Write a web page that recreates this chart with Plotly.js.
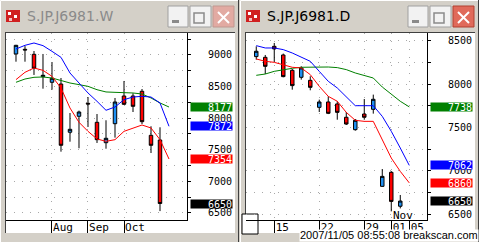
<!DOCTYPE html>
<html><head><meta charset="utf-8">
<script src="https://cdn.plot.ly/plotly-3.0.1.min.js"></script>
<style>html,body{margin:0;padding:0;background:#d4d0c8;}#chart{width:479px;height:242px;}</style>
</head><body><div id="chart"></div>
<script>
// ---------- Weekly data (S.JP.J6981.W) ----------
const wDates = ['2007-07-09','2007-07-16','2007-07-23','2007-07-30','2007-08-06','2007-08-13','2007-08-20','2007-08-27','2007-09-03','2007-09-10','2007-09-18','2007-09-25','2007-10-01','2007-10-09','2007-10-15','2007-10-22','2007-10-29'];
const wNext = '2007-11-05';
const wOpen  = [9016, 9090, 9011, 8657, 8568, 8541, 7777, 8030, 8235, 7935, 7612, 7913, 8351, 8351, 8426, 7729, 7655];
const wHigh  = [9160, 9140, 9063, 9016, 8889, 8636, 8082, 8120, 8335, 8066, 7967, 8320, 8589, 8394, 8462, 7872, 7856];
const wLow   = [8894, 8894, 8684, 8467, 8451, 7470, 7628, 7524, 7861, 7608, 7517, 7692, 8210, 8098, 7908, 7449, 6530];
const wClose = [9153, 9080, 8790, 8679, 8631, 7571, 7824, 8098, 8225, 7660, 7682, 8256, 8220, 8188, 7945, 7571, 6650];
const wMaBlue  = [9095, 9153, 9190, 9148, 9058, 8963, 8715, 8557, 8399, 8267, 8125, 8177, 8293, 8335, 8346, 8335, 8241, 7872];
const wMaRed   = [8610, 8726, 8794, 8757, 8662, 8478, 8161, 7935, 7792, 7671, 7634, 7660, 7792, 7845, 7892, 7845, 7660, 7354];
const wMaGreen = [8568, 8620, 8647, 8652, 8636, 8594, 8557, 8531, 8504, 8451, 8415, 8409, 8409, 8399, 8383, 8320, 8241, 8177];
const wTickVals = ['2007-08-06','2007-09-03','2007-10-01'];
const wTickText = ['Aug','Sep','Oct'];
const wTitle = 'S.JP.J6981.W';

// ---------- Daily data (S.JP.J6981.D) ----------
const dDates = ['2007-10-11','2007-10-12','2007-10-15','2007-10-16','2007-10-17','2007-10-18','2007-10-19','2007-10-22','2007-10-23','2007-10-24','2007-10-25','2007-10-26','2007-10-29','2007-10-30','2007-10-31','2007-11-01','2007-11-02'];
const dNext = '2007-11-05';
const dOpen  = [8319, 8311, 8438, 8338, 8161, 8080, 8045, 7733, 7795, 7772, 7618, 7475, 7656, 7710, 6820, 6982, 6590];
const dHigh  = [8438, 8338, 8477, 8354, 8176, 8207, 8092, 7822, 7860, 7803, 7679, 7598, 7829, 7880, 7020, 6997, 6720];
const dLow   = [8284, 8118, 8257, 8080, 7937, 8053, 7930, 7679, 7655, 7590, 7529, 7463, 7590, 7660, 6815, 6531, 6565];
const dClose = [8381, 8207, 8408, 8088, 7984, 8188, 7964, 7795, 7664, 7675, 7540, 7583, 7618, 7826, 6935, 6646, 6650];
const dMaBlue  = [8446, 8419, 8419, 8400, 8361, 8315, 8265, 8149, 8034, 7957, 7860, 7752, 7752, 7752, 7629, 7456, 7263, 7062];
const dMaRed   = [8292, 8265, 8253, 8226, 8196, 8188, 8111, 7976, 7860, 7803, 7675, 7583, 7571, 7571, 7359, 7147, 6993, 6860];
const dMaGreen = [8103, 8118, 8149, 8169, 8184, 8196, 8199, 8199, 8199, 8192, 8169, 8130, 8099, 8072, 7968, 7880, 7803, 7738];
const dTickVals = ['2007-10-15','2007-10-22','2007-10-29','2007-11-01','2007-11-05'];
const dTickText = ['15','22','29','01','05'];
const dMonthLabel = {at:'2007-11-01', text:'Nov'};
const dTitle = 'S.JP.J6981.D';
const stamp = '2007/11/05 08:55:08 breakscan.com';

// ---------- styling ----------
const W = 479, H = 242;
const px = x => x / W, py = y => 1 - y / H;
const UP = '#1e8ff0', DOWN = '#ff0000';
const MONO = 'DejaVu Sans Mono';
const GRID = '#a8a8a8', GDASH = '1px,7px';

function candle(x, o, h, l, c, xa, ya) {
  return {type:'candlestick', x:x, open:o, high:h, low:l, close:c, xaxis:xa, yaxis:ya,
    increasing:{line:{color:'#000', width:1}, fillcolor:UP},
    decreasing:{line:{color:'#000', width:1}, fillcolor:DOWN},
    whiskerwidth:0, hoverinfo:'skip', showlegend:false};
}
function maLine(x, y, color, xa, ya) {
  return {type:'scatter', mode:'lines', x:x, y:y, xaxis:xa, yaxis:ya,
    line:{color:color, width:1}, hoverinfo:'skip', showlegend:false};
}
const wX = wDates.concat([wNext]);
const dX = dDates.concat([dNext]);

const data = [
  candle(wDates, wOpen, wHigh, wLow, wClose, 'x', 'y'),
  maLine(wX, wMaGreen, '#008000', 'x', 'y'),
  maLine(wX, wMaRed, '#ff0000', 'x', 'y'),
  maLine(wX, wMaBlue, '#0000ff', 'x', 'y'),
  candle(dDates, dOpen, dHigh, dLow, dClose, 'x2', 'y2'),
  maLine(dX, dMaGreen, '#008000', 'x2', 'y2'),
  maLine(dX, dMaRed, '#ff0000', 'x2', 'y2'),
  maLine(dX, dMaBlue, '#0000ff', 'x2', 'y2')
];

function xAxis(dom, range, tv, tt, shift, anchor) {
  return {domain:dom, type:'category', range:range, rangeslider:{visible:false},
    tickvals:tv, ticktext:tt, ticks:'outside', ticklen:12, tickwidth:1, tickcolor:'#000',
    ticklabelstandoff:-15, ticklabelshift:shift,
    tickfont:{family:MONO, size:11, color:'#000'},
    showgrid:true, gridcolor:GRID, griddash:GDASH, gridwidth:1,
    showline:true, linecolor:'#000', linewidth:1, zeroline:false, fixedrange:true, anchor:anchor};
}
function yAxis(dom, range, anchor) {
  return {domain:dom, range:range, side:'right', tick0:0, dtick:500,
    ticks:'outside', ticklen:3, tickcolor:'#000',
    minor:{dtick:250, showgrid:true, gridcolor:GRID, griddash:GDASH, ticks:'outside', ticklen:3, tickcolor:'#000'},
    showgrid:true, gridcolor:GRID, griddash:GDASH, gridwidth:1,
    ticklabelstandoff:15, tickformat:'d',
    tickfont:{family:MONO, size:10, color:'#000'},
    showline:true, linecolor:'#000', linewidth:1, zeroline:false, fixedrange:true, anchor:anchor};
}

function valueBox(val, color, yref, xRight) {
  return {xref:'paper', yref:yref, x:px(xRight), y:val, xanchor:'right', yanchor:'middle',
    text:String(val), showarrow:false, bgcolor:color, borderpad:0, width:41, height:8, align:'right',
    font:{family:MONO, size:10, color:'#ffffff'}};
}

const shapes = [];
function rect(x0, y0, x1, y1, fill, line, lw) {
  shapes.push({type:'rect', xref:'paper', yref:'paper', x0:px(x0), x1:px(x1), y0:py(y1), y1:py(y0),
    fillcolor:fill || 'rgba(0,0,0,0)', line:{color:line || 'rgba(0,0,0,0)', width:lw || 0}, layer:'below'});
}
function seg(x0, y0, x1, y1, color, w, layer) {
  shapes.push({type:'line', xref:'paper', yref:'paper', x0:px(x0), x1:px(x1), y0:py(y0), y1:py(y1),
    line:{color:color, width:w || 1}, layer:layer || 'below'});
}
function windowChrome(x0, x1, active) {
  seg(x0 + 0.5, 0.5, x1 - 0.5, 0.5, '#ffffff', 1);
  seg(x0 + 0.5, 0.5, x0 + 0.5, 242, '#ffffff', 1);
  seg(x1 - 0.5, 0, x1 - 0.5, 242, '#404040', 1);
  rect(x0 + 5, 32, x1 - 4, 233, '#ffffff');
  seg(x0 + 5, 32.5, x1 - 4, 32.5, '#404040', 1);
  seg(x0 + 5.5, 32, x0 + 5.5, 233, '#404040', 1);
  rect(x0 + 6, 10, x0 + 20, 22, '#d02020');
  rect(x0 + 8, 12, x0 + 11, 15, '#ffffff');
  rect(x0 + 14, 15, x0 + 17, 18, '#ffffff');
  rect(x0 + 9, 18, x0 + 12, 21, '#f0c0c0');
  const bx = x1 - 71;
  rect(bx, 6, bx + 20, 27, '#f2f2f2', '#a0a0a0', 1);
  rect(bx + 4, 20, bx + 11, 23, '#8a8a8a');
  rect(bx + 22, 6, bx + 43, 27, '#f2f2f2', '#a0a0a0', 1);
  rect(bx + 26, 13, bx + 36, 23, null, '#8a8a8a', 1.5);
  rect(bx + 45, 6, bx + 66, 27, active ? '#e06a5a' : '#e2aaa2', active ? '#b04030' : '#c09890', 1);
  seg(bx + 50, 12, bx + 61, 23, '#ffffff', 2);
  seg(bx + 50, 23, bx + 61, 12, '#ffffff', 2);
}
windowChrome(0, 239, false);
windowChrome(240, 479, true);
rect(242, 214, 258, 234, '#ffffff', '#000000', 1);

const annotations = [
  {xref:'paper', yref:'paper', x:px(25), y:py(16), xanchor:'left', yanchor:'middle', text:wTitle, showarrow:false,
   font:{family:'DejaVu Sans', size:14, color:'#8a8a8a'}},
  {xref:'paper', yref:'paper', x:px(265), y:py(16), xanchor:'left', yanchor:'middle', text:dTitle, showarrow:false,
   font:{family:'DejaVu Sans', size:14, color:'#000000'}},
  valueBox(wMaGreen[wMaGreen.length - 1], '#008000', 'y', 233),
  valueBox(wMaBlue[wMaBlue.length - 1], '#0000ff', 'y', 233),
  valueBox(wMaRed[wMaRed.length - 1], '#ff0000', 'y', 233),
  valueBox(wClose[wClose.length - 1], '#000000', 'y', 233),
  valueBox(dMaGreen[dMaGreen.length - 1], '#008000', 'y2', 473),
  valueBox(dMaBlue[dMaBlue.length - 1], '#0000ff', 'y2', 473),
  valueBox(dMaRed[dMaRed.length - 1], '#ff0000', 'y2', 473),
  valueBox(dClose[dClose.length - 1], '#000000', 'y2', 473),
  {xref:'x2', yref:'paper', x:dMonthLabel.at, y:py(215.5), xanchor:'left', yanchor:'middle', xshift:0,
   text:dMonthLabel.text, showarrow:false, font:{family:MONO, size:11, color:'#000'}},
  {xref:'paper', yref:'paper', x:1, y:0, xanchor:'right', yanchor:'bottom', text:stamp, showarrow:false,
   bgcolor:'#ffffff', borderpad:0, height:11, valign:'bottom',
   font:{family:'Liberation Sans, Arial, sans-serif', size:11, color:'#000'}}
];

const layout = {
  width:W, height:H, margin:{l:0, r:0, t:0, b:0, pad:0},
  paper_bgcolor:'#d4d0c8', plot_bgcolor:'#ffffff', showlegend:false,
  boxgap:0.45, hovermode:false, dragmode:false,
  xaxis: xAxis([px(6), px(187)], [-1.11, 19], wTickVals, wTickText, 11, 'y'),
  yaxis: yAxis([py(220), py(33)], [6389, 9348], 'x'),
  xaxis2: xAxis([px(246), px(427)], [-1.14, 18.97], dTickVals, dTickText, 8, 'y2'),
  yaxis2: yAxis([py(220), py(33)], [6431, 8592], 'x2'),
  shapes:shapes, annotations:annotations
};
Plotly.newPlot('chart', data, layout, {staticPlot:true, displayModeBar:false});
</script></body></html>
